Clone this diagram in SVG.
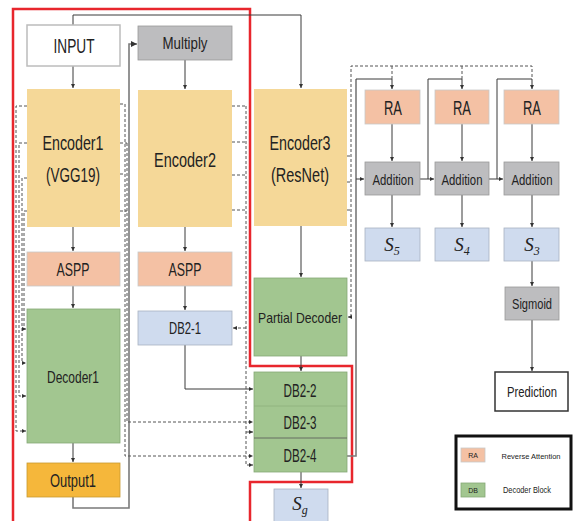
<svg xmlns="http://www.w3.org/2000/svg" width="573" height="521" viewBox="0 0 573 521">
<defs>
<marker id="a" viewBox="0 0 6 6" refX="6" refY="3" markerWidth="4" markerHeight="4" orient="auto"><path d="M0,0 L6,3 L0,6 z" fill="#333"/></marker>
<style>
.t{font-family:"Liberation Sans",Arial,sans-serif;fill:#222;text-anchor:middle}
.s{font-family:"Liberation Serif","Times New Roman",serif;font-style:italic;fill:#222;text-anchor:middle}
.enc{fill:#f5d898}
.or{fill:#f4c1a4;stroke:#c9c9c9;stroke-width:0.8}
.gr{fill:#a2c690;stroke:#86a876;stroke-width:0.8}
.bl{fill:#cfdbee;stroke:#a9b2c0;stroke-width:0.8}
.gy{fill:#bdbdbf;stroke:#9a9a9a;stroke-width:0.8}
.ln{fill:none;stroke:#3a3a3a;stroke-width:1}
.gl{fill:none;stroke:#7a7a7a;stroke-width:1.6}
.dl{fill:none;stroke:#555;stroke-width:1;stroke-dasharray:3 2}
</style>
</defs>
<rect width="573" height="521" fill="#fff"/>
<polyline points="13,521 13,9 250,9 250,366 352,366 352,482 250,482 250,521" fill="none" stroke="#e8262d" stroke-width="2.5"/>

<g id="connectors">
<path class="ln" d="M73,25 V15 H301 V88" marker-end="url(#a)"/>
<path class="ln" d="M73,66 V88" marker-end="url(#a)"/>
<path class="ln" d="M185,60 V89" marker-end="url(#a)"/>
<path class="ln" d="M73,227 V251" marker-end="url(#a)"/>
<path class="ln" d="M185,227 V251" marker-end="url(#a)"/>
<path class="ln" d="M73,286 V308" marker-end="url(#a)"/>
<path class="ln" d="M185,286 V310" marker-end="url(#a)"/>
<path class="ln" d="M73,443 V462" marker-end="url(#a)"/>
<path class="ln" d="M185,345 V389 H253" marker-end="url(#a)"/>
<path class="ln" d="M301,226 V277" marker-end="url(#a)"/>
<path class="ln" d="M301,356 V371" marker-end="url(#a)"/>
<path class="ln" d="M301,472 V488" marker-end="url(#a)"/>
<path class="ln" d="M392,124 V161" marker-end="url(#a)"/>
<path class="ln" d="M462,124 V161" marker-end="url(#a)"/>
<path class="ln" d="M532,124 V161" marker-end="url(#a)"/>
<path class="ln" d="M392,195 V227" marker-end="url(#a)"/>
<path class="ln" d="M462,195 V227" marker-end="url(#a)"/>
<path class="ln" d="M532,195 V227" marker-end="url(#a)"/>
<path class="ln" d="M532,261 V286" marker-end="url(#a)"/>
<path class="ln" d="M532,320 V371" marker-end="url(#a)"/>
<path class="ln" d="M420,179 H434" marker-end="url(#a)"/>
<path class="ln" d="M489,179 H503" marker-end="url(#a)"/>
<path class="ln" d="M428,179 V79 H462 V89" marker-end="url(#a)"/>
<path class="ln" d="M497,179 V79 H532 V89" marker-end="url(#a)"/>
<path class="gl" d="M73,497 V508 H129 V44 H137" marker-end="url(#a)"/>
<path class="gl" d="M347,456 H356 V79"/>
<path class="ln" d="M356,79 H392 V89" marker-end="url(#a)"/>
<path class="ln" d="M356,179 H364" marker-end="url(#a)"/>
<path class="dl" d="M27,106 H16 V431 H26" marker-end="url(#a)"/>
<path class="dl" d="M27,143 H19 V396 H26" marker-end="url(#a)"/>
<path class="dl" d="M27,178 H22 V363 H26" marker-end="url(#a)"/>
<path class="dl" d="M27,211 H24 V329 H26" marker-end="url(#a)"/>
<path class="dl" d="M120,104 H125 M120,174 H125 M120,143 H127 M120,211 H127"/>
<path class="dl" d="M125,104 V456 H253" marker-end="url(#a)"/>
<path class="dl" d="M127,143 V422 H253" marker-end="url(#a)"/>
<path class="dl" d="M232,106 H246 M232,142 H246 M232,175 H246 M232,210 H246"/>
<path class="dl" d="M246,106 V465 H253" marker-end="url(#a)"/>
<path class="dl" d="M246,328 H233" marker-end="url(#a)"/>
<path class="dl" d="M246,432 H253" marker-end="url(#a)"/>
<path class="dl" d="M347,156 H351 M347,182 H351 M347,210 H351"/>
<path class="dl" d="M351,317 V66 H532 V79 M392,66 V79 M462,66 V79"/>
<path class="dl" d="M351,317 H348" marker-end="url(#a)"/>
</g>

<g id="input"><rect x="27" y="25" width="93" height="41" fill="#fff" stroke="#bcbcbc" stroke-width="1.5"/><text class="t" x="74" y="53" font-size="21" textLength="41" lengthAdjust="spacingAndGlyphs">INPUT</text></g>
<g id="multiply"><rect class="gy" x="138" y="26" width="94" height="34"/><text class="t" x="185" y="49" font-size="17" textLength="45" lengthAdjust="spacingAndGlyphs">Multiply</text></g>
<g id="encoder1"><rect class="enc" x="27" y="89" width="93" height="138"/><text class="t" x="73" y="150" font-size="20" textLength="61" lengthAdjust="spacingAndGlyphs">Encoder1</text><text class="t" x="73" y="182" font-size="20" textLength="54" lengthAdjust="spacingAndGlyphs">(VGG19)</text></g>
<g id="encoder2"><rect class="enc" x="138" y="90" width="94" height="137"/><text class="t" x="185" y="167" font-size="20" textLength="62" lengthAdjust="spacingAndGlyphs">Encoder2</text></g>
<g id="encoder3"><rect class="enc" x="254" y="89" width="93" height="137"/><text class="t" x="300" y="150" font-size="20" textLength="61" lengthAdjust="spacingAndGlyphs">Encoder3</text><text class="t" x="300" y="182" font-size="20" textLength="58" lengthAdjust="spacingAndGlyphs">(ResNet)</text></g>
<g id="aspp1"><rect class="or" x="27" y="252" width="93" height="34"/><text class="t" x="73" y="276" font-size="19" textLength="33" lengthAdjust="spacingAndGlyphs">ASPP</text></g>
<g id="aspp2"><rect class="or" x="138" y="252" width="94" height="34"/><text class="t" x="185" y="276" font-size="19" textLength="33" lengthAdjust="spacingAndGlyphs">ASPP</text></g>
<g id="decoder1"><rect class="gr" x="27" y="309" width="93" height="134"/><text class="t" x="73" y="383" font-size="17" textLength="52" lengthAdjust="spacingAndGlyphs">Decoder1</text></g>
<g id="output1"><rect x="27" y="463" width="93" height="34" fill="#f5b73b" stroke="#c99a30" stroke-width="0.8"/><text class="t" x="73" y="487" font-size="18" textLength="46" lengthAdjust="spacingAndGlyphs">Output1</text></g>
<g id="db2-1"><rect class="bl" x="138" y="311" width="94" height="34"/><text class="t" x="185" y="334" font-size="17" textLength="32" lengthAdjust="spacingAndGlyphs">DB2-1</text></g>
<g id="partial-decoder"><rect class="gr" x="254" y="278" width="93" height="78"/><text class="t" x="300" y="323" font-size="15" textLength="84" lengthAdjust="spacingAndGlyphs">Partial Decoder</text></g>
<g id="db2-block"><rect class="gr" x="254" y="372" width="93" height="100"/><line x1="254" y1="406" x2="347" y2="406" stroke="#8db07c" stroke-width="0.8"/><line x1="254" y1="438" x2="347" y2="438" stroke="#555" stroke-width="0.8"/><text class="t" x="300" y="397" font-size="18" textLength="33" lengthAdjust="spacingAndGlyphs">DB2-2</text><text class="t" x="300" y="429" font-size="18" textLength="33" lengthAdjust="spacingAndGlyphs">DB2-3</text><text class="t" x="300" y="462" font-size="18" textLength="33" lengthAdjust="spacingAndGlyphs">DB2-4</text></g>
<g id="sg"><rect class="bl" x="274" y="489" width="54" height="40"/><text class="s" x="300" y="510" font-size="19">S<tspan font-size="12" dy="4">g</tspan></text></g>
<g id="ra1"><rect class="or" x="365" y="90" width="55" height="34"/><text class="t" x="393" y="115" font-size="20" textLength="18" lengthAdjust="spacingAndGlyphs">RA</text></g>
<g id="ra2"><rect class="or" x="435" y="90" width="54" height="34"/><text class="t" x="462" y="115" font-size="20" textLength="18" lengthAdjust="spacingAndGlyphs">RA</text></g>
<g id="ra3"><rect class="or" x="504" y="90" width="55" height="34"/><text class="t" x="532" y="115" font-size="20" textLength="18" lengthAdjust="spacingAndGlyphs">RA</text></g>
<g id="add1"><rect class="gy" x="365" y="162" width="55" height="33"/><text class="t" x="393" y="185" font-size="15" textLength="41" lengthAdjust="spacingAndGlyphs">Addition</text></g>
<g id="add2"><rect class="gy" x="435" y="162" width="54" height="33"/><text class="t" x="462" y="185" font-size="15" textLength="41" lengthAdjust="spacingAndGlyphs">Addition</text></g>
<g id="add3"><rect class="gy" x="504" y="162" width="55" height="33"/><text class="t" x="532" y="185" font-size="15" textLength="41" lengthAdjust="spacingAndGlyphs">Addition</text></g>
<g id="s5"><rect class="bl" x="365" y="228" width="55" height="33"/><text class="s" x="392" y="251" font-size="19">S<tspan font-size="12" dy="4">5</tspan></text></g>
<g id="s4"><rect class="bl" x="435" y="228" width="54" height="33"/><text class="s" x="462" y="251" font-size="19">S<tspan font-size="12" dy="4">4</tspan></text></g>
<g id="s3"><rect class="bl" x="504" y="228" width="55" height="33"/><text class="s" x="532" y="251" font-size="19">S<tspan font-size="12" dy="4">3</tspan></text></g>
<g id="sigmoid"><rect class="gy" x="505" y="287" width="54" height="33"/><text class="t" x="532" y="309" font-size="15" textLength="40" lengthAdjust="spacingAndGlyphs">Sigmoid</text></g>
<g id="prediction"><rect x="495" y="372" width="73" height="39" fill="#fff" stroke="#333" stroke-width="1.5"/><text class="t" x="532" y="397" font-size="15" textLength="50" lengthAdjust="spacingAndGlyphs">Prediction</text></g>
<g id="legend"><rect x="456" y="436" width="115" height="73" fill="#fff" stroke="#111" stroke-width="3"/>
<rect class="or" x="461" y="448" width="24" height="14"/><text class="t" x="473" y="458" font-size="7">RA</text><text class="t" x="531" y="459" font-size="8" textLength="59" lengthAdjust="spacingAndGlyphs">Reverse Attention</text>
<rect class="gr" x="461" y="483" width="24" height="14"/><text class="t" x="473" y="493" font-size="7">DB</text><text class="t" x="527" y="493" font-size="9" textLength="48" lengthAdjust="spacingAndGlyphs">Decoder Block</text></g>
</svg>
